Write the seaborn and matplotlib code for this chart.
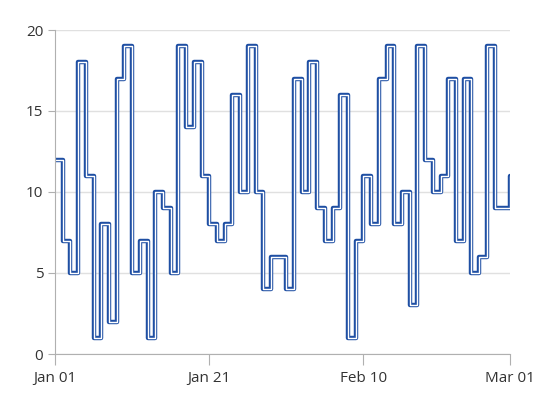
import matplotlib
matplotlib.use("Agg")
import matplotlib.pyplot as plt
import seaborn as sns
import pandas as pd
import numpy as np

values = [12,7,5,18,11,1,8,2,17,19,5,7,1,10,9,5,19,14,18,11,
          8,7,8,16,10,19,10,4,6,6,4,17,10,18,9,7,9,16,1,7,
          11,8,17,19,8,10,3,19,12,10,11,17,7,17,5,6,19,9,9,11]
dates = pd.date_range("2023-01-01", periods=len(values), freq="D")
tick_dates = pd.to_datetime(["2023-01-01", "2023-01-21", "2023-02-10", "2023-03-01"])
tick_labels = ["Jan 01", "Jan 21", "Feb 10", "Mar 01"]
df = pd.DataFrame({"date": dates, "value": values})

sns.set_style("white")
plt.rcParams['font.family'] = ['Open Sans', 'DejaVu Sans']
fig = plt.figure(figsize=(5.53, 4.12), dpi=100)
ax = fig.add_axes([55/553, 1-354/412, 455/553, 324/412])
sns.lineplot(data=df, x="date", y="value", drawstyle="steps-post", color="#1f4fa3", lw=3.2, ax=ax)
sns.lineplot(data=df, x="date", y="value", drawstyle="steps-post", color="white", lw=1.0, ax=ax)
ax.set_xlim(dates[0], dates[-1])
ax.set_ylim(0, 20)
ax.set_yticks([0, 5, 10, 15, 20])
ax.set_xticks(tick_dates)
ax.set_xticklabels(tick_labels)
ax.set_xlabel(""); ax.set_ylabel("")
ax.grid(axis="y", color="#e0e0e0", lw=1)
ax.set_axisbelow(True)
for s in ["top", "right"]:
    ax.spines[s].set_visible(False)
for s in ["left", "bottom"]:
    ax.spines[s].set_color("#b0b0b0")
ax.tick_params(axis="x", length=8, color="#b0b0b0", labelsize=11, colors="#333333", bottom=True, pad=4)
ax.tick_params(axis="y", length=5, color="#b0b0b0", labelsize=11, colors="#333333", left=True)
for lbl in ax.get_xticklabels():
    lbl.set_color("#333333")
fig.savefig("out.png", dpi=100)
